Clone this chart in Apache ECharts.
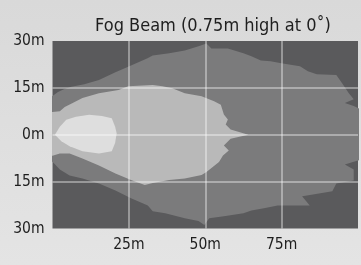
<!DOCTYPE html>
<html><head><meta charset="utf-8">
<script src="https://cdn.jsdelivr.net/npm/echarts@6/dist/echarts.min.js"></script>
<style>
html,body{margin:0;padding:0;background:linear-gradient(#d9d9d9,#e4e4e4);}
#c{width:361px;height:265px;}
</style></head>
<body><div id="c"></div>
<script>
// ---- data (metres) ----
const titleText = 'Fog Beam (0.75m high at 0\u02DA)';
const xTicks = [25, 50, 75];
const xTickLabels = ['25m', '50m', '75m'];
const yTicks = [30, 15, 0, -15, -30];
const yTickLabels = ['30m', '15m', '0m', '15m', '30m'];

// outer (mid grey) illuminated zone boundary [distance, lateral]
const outerZone = [
  [-2,12.4],[0,12.4],[1.8,13.7],[3.7,14.6],[6.2,15.4],[10.4,16.2],[15.2,17.5],[20.6,20.0],[25.7,22.2],
  [31.1,24.5],[32.8,25.4],[38.2,26.1],[43.3,27.0],[47.8,28.3],[50.4,29.2],[52.0,27.6],[57.4,27.6],
  [62.5,26.1],[65.1,25.1],[68.2,23.8],[71.4,23.5],[74.9,22.9],[81.0,21.9],[83.6,20.3],[86.5,19.4],
  [92.9,19.1],[94.8,16.5],[97.0,13.3],[98.6,11.4],[95.7,10.2],[98.6,9.2],[101.5,7.9],[101.5,-7.9],
  [98.6,-8.6],[95.7,-9.5],[98.6,-11.1],[98.6,-14.6],[92.9,-15.6],[91.6,-18.1],[83.3,-19.4],
  [81.7,-19.7],[84.2,-22.6],[73.7,-22.6],[69.2,-23.5],[65.1,-24.2],[62.5,-25.1],[56.1,-26.1],
  [51.3,-26.7],[49.7,-28.9],[47.8,-27.6],[43.3,-26.7],[36.9,-25.1],[32.8,-24.5],[31.2,-22.6],
  [25.7,-20.3],[20.6,-17.8],[15.2,-15.6],[9.8,-14.0],[5.6,-13.0],[2.4,-11.1],[0,-8.6],[-2,-8.6]
];
// light grey zone boundary
const midZone = [
  [-2,7.3],[0,7.3],[2.4,7.5],[4.0,8.9],[6.6,10.2],[9.8,11.8],[15.2,13.3],[21.6,14.3],[24.8,15.5],
  [32.8,15.9],[36.0,15.5],[39.2,14.9],[43.3,13.3],[48.8,12.3],[52.9,10.7],[55.1,9.6],[56.1,6.5],
  [57.4,4.9],[56.7,3.3],[58.3,1.7],[64.1,0],[58.3,-1.3],[56.1,-3.4],[57.7,-5.0],[55.8,-6.6],
  [54.5,-8.7],[50.4,-11.9],[48.8,-12.9],[43.3,-14.0],[38.2,-14.5],[32.8,-15.4],[30.2,-16.1],
  [25.7,-14.5],[20.6,-12.4],[15.2,-9.8],[9.8,-7.6],[5.6,-6.0],[2.4,-6.0],[0,-6.7],[-2,-6.7]
];
// brightest zone boundary
const innerZone = [
  [0.8,0],[2.4,2.6],[4.5,4.8],[7.7,5.8],[12.0,6.4],[16.2,6.0],[19.4,5.3],[20.5,2.6],[21.0,0.5],
  [20.5,-2.6],[19.4,-5.3],[15.2,-6.0],[9.8,-5.3],[5.6,-3.7],[2.9,-2.1]
];

const zones = [
  {name: 'outer', pts: outerZone, color: '#7b7b7c'},
  {name: 'mid', pts: midZone, color: '#b9b9b9'},
  {name: 'inner', pts: innerZone, color: '#dedede'}
];

const chart = echarts.init(document.getElementById('c'));
const FONT = "'DejaVu Sans Condensed','Liberation Sans Narrow',sans-serif";

function polySeries(z, idx) {
  return {
    type: 'custom', name: z.name, z: 2 + idx, silent: true, clip: true,
    data: [0],
    renderItem: function (params, api) {
      const points = z.pts.map(p => api.coord(p));
      return {type: 'polygon', shape: {points: points}, style: {fill: z.color}};
    }
  };
}

const gridMarks = xTicks.map(v => ({xAxis: v})).concat(
  yTicks.filter(v => Math.abs(v) < 30).map(v => ({yAxis: v})));

chart.setOption({
  animation: false,
  title: {
    text: titleText, left: 208, top: 12, textAlign: 'center',
    textStyle: {fontFamily: FONT, fontSize: 18, fontWeight: 'normal', color: '#1e1e1e'}
  },
  grid: {
    left: 52.5, top: 41, height: 187.5, width: 312.8,
    show: true, backgroundColor: '#5a5a5c', borderWidth: 0
  },
  xAxis: {
    type: 'value', min: 0, max: 100, interval: 25,
    axisLine: {show: false}, axisTick: {show: false}, splitLine: {show: false},
    axisLabel: {
      margin: 8, fontFamily: FONT, fontSize: 15.5, color: '#1e1e1e',
      formatter: function (v) { const i = xTicks.indexOf(v); return i >= 0 ? xTickLabels[i] : ''; }
    }
  },
  yAxis: {
    type: 'value', min: -30, max: 30, interval: 15,
    axisLine: {show: false}, axisTick: {show: false}, splitLine: {show: false},
    axisLabel: {
      margin: 8, fontFamily: FONT, fontSize: 15.5, color: '#1e1e1e',
      formatter: function (v) { const i = yTicks.indexOf(v); return i >= 0 ? yTickLabels[i] : ''; }
    }
  },
  series: zones.map(polySeries).concat([{
    type: 'line', data: [], z: 10, silent: true,
    markLine: {
      silent: true, symbol: 'none', label: {show: false}, animation: false,
      lineStyle: {color: 'rgba(255,255,255,0.5)', width: 1.5, type: 'solid'},
      data: gridMarks
    }
  }])
});
</script></body></html>
